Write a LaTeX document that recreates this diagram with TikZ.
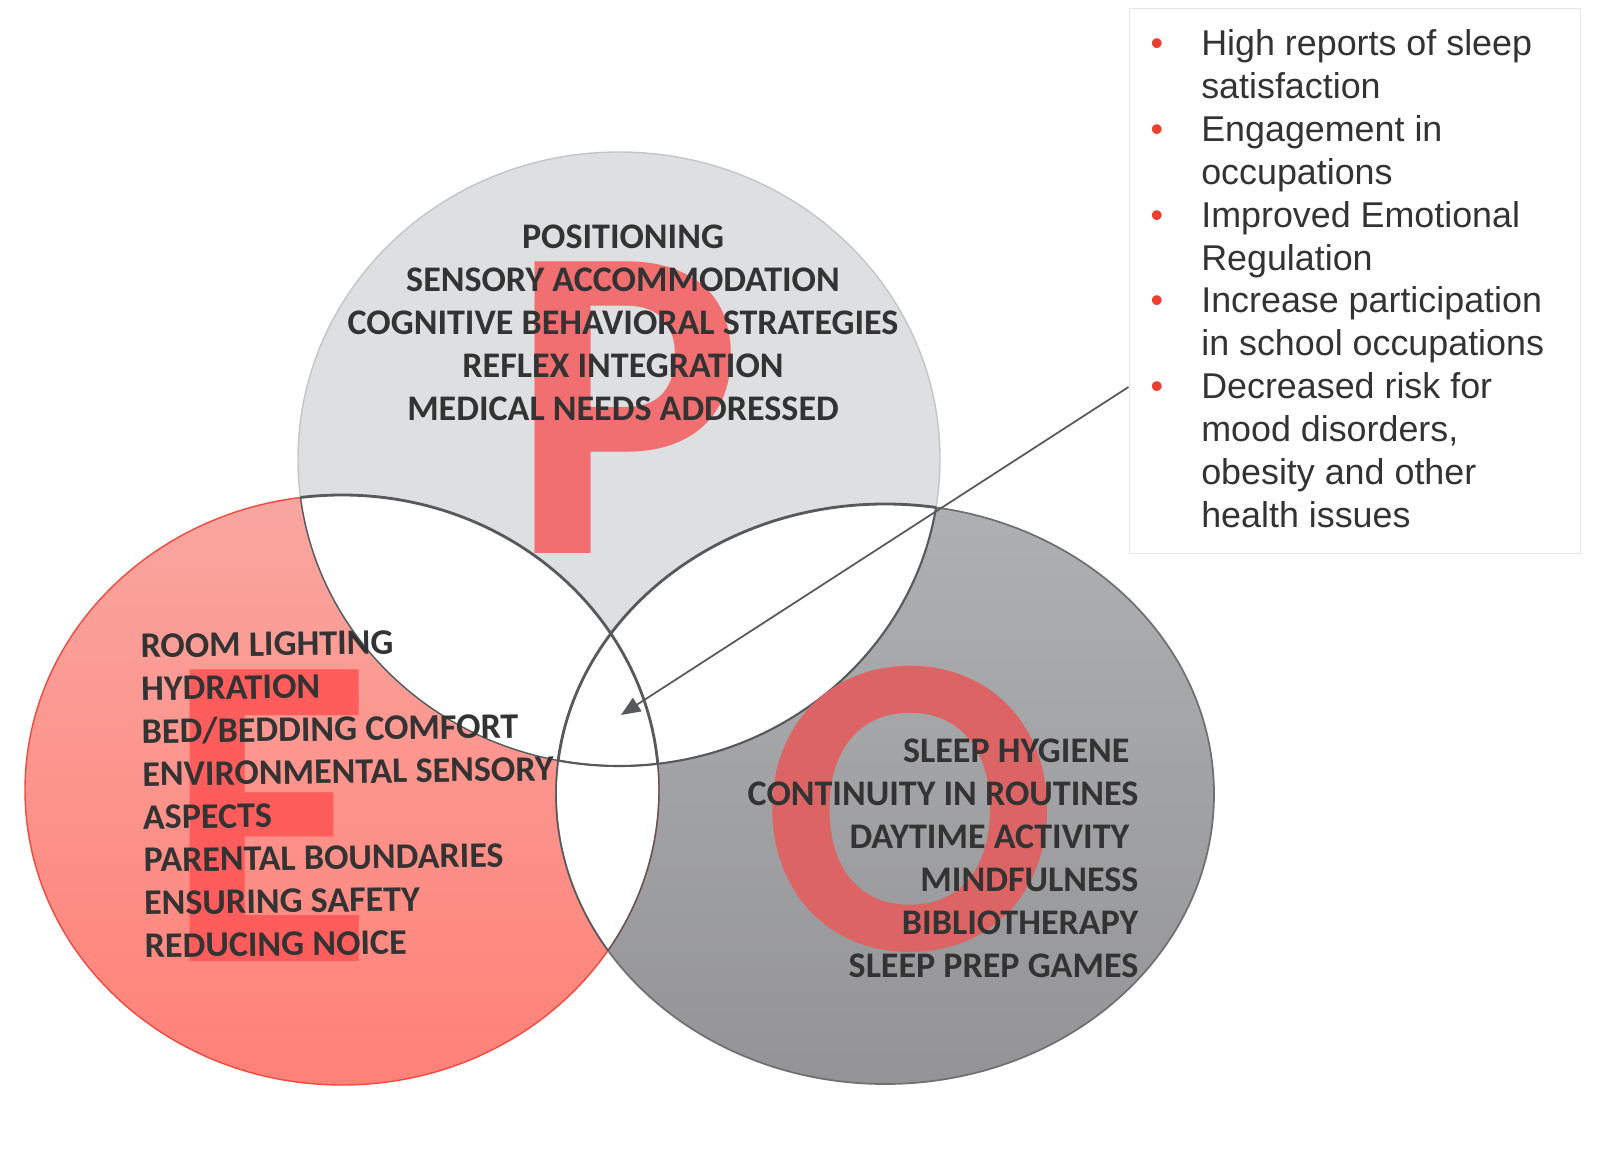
\documentclass[tikz,border=0pt]{standalone}
\usepackage{fontspec}
\setmainfont{Liberation Sans}
\newfontfamily\calfont{Carlito}
\usetikzlibrary{arrows.meta,calc,positioning}

\definecolor{pgray}{HTML}{DEDFE1}
\definecolor{pline}{HTML}{C4C5C7}
\definecolor{etop}{HTML}{F9A6A0}
\definecolor{ebottom}{HTML}{FF8177}
\definecolor{eline}{HTML}{F04A3E}
\definecolor{otop}{HTML}{AFB0B2}
\definecolor{obottom}{HTML}{949496}
\definecolor{oline}{HTML}{707070}
\definecolor{innerline}{HTML}{58595B}
\definecolor{letterP}{HTML}{F26F71}
\definecolor{letterE}{HTML}{FF5C5C}
\definecolor{letterO}{HTML}{DC6464}
\definecolor{ink}{HTML}{333333}
\definecolor{dotred}{HTML}{EA3F2F}
\definecolor{boxline}{HTML}{E6E6E6}

% the three sets
\newcommand{\ellP}{(6.19,4.59) ellipse [x radius=3.21cm, y radius=3.07cm]}
\newcommand{\ellE}{(3.42,7.90) ellipse [x radius=3.17cm, y radius=2.95cm]}
\newcommand{\ellO}{(8.85,7.94) ellipse [x radius=3.29cm, y radius=2.90cm]}

\begin{document}
\begin{tikzpicture}[x=1cm,y=-1cm,
  every node/.style={inner sep=0pt},
  settext/.style={font=\calfont\bfseries\fontsize{10.25}{12.2}\selectfont,text=ink},
  bigletter/.style={font=\calfont\bfseries\fontsize{128}{128}\selectfont,transform shape},
  outcome/.style={font=\fontsize{10.2}{12.2}\selectfont,text=ink,anchor=north west},
  arrowline/.style={draw=innerline,line width=0.5pt,-{Triangle[length=5.5pt,width=4.5pt]}},
]
\useasboundingbox (0,0) rectangle (16.16,11.58);

% the sets
\fill[pgray] \ellP;
\shade[top color=etop,bottom color=ebottom] \ellE;
\shade[top color=otop,bottom color=obottom] \ellO;

% the overlaps
\begin{scope}
\clip \ellP;
\fill[white] \ellE;
\fill[white] \ellO;
\end{scope}
\begin{scope}
\clip \ellE;
\fill[white] \ellO;
\end{scope}

% outer borders
\draw[pline,line width=0.4pt] \ellP;
\draw[eline,line width=0.4pt] \ellE;
\draw[oline,line width=0.5pt] \ellO;

% inner borders
\begin{scope}
\clip \ellP;
\draw[innerline,line width=0.8pt] \ellE;
\draw[innerline,line width=0.8pt] \ellO;
\end{scope}
\begin{scope}
\clip \ellE;
\draw[innerline,line width=0.4pt] \ellP;
\draw[innerline,line width=0.4pt] \ellO;
\end{scope}
\begin{scope}
\clip \ellO;
\draw[innerline,line width=0.6pt] \ellP;
\draw[innerline,line width=0.4pt] \ellE;
\end{scope}

% the big letters
\node[bigletter,text=letterP,xscale=0.97] (bigP) at (6.27,4.08) {P};
\node[bigletter,text=letterE,xscale=0.95] (bigE) at (2.70,8.16) {E};
\node[bigletter,text=letterO,xscale=0.97,yscale=0.96] (bigO) at (9.10,8.095) {O};

% the strategies
\node[settext,align=center] (person) at (6.23,3.23)
  {POSITIONING\\SENSORY ACCOMMODATION\\COGNITIVE BEHAVIORAL STRATEGIES\\REFLEX INTEGRATION\\MEDICAL NEEDS ADDRESSED};
\node[settext,align=left,anchor=west,rotate=0.8] (environment) at (1.42,7.96)
  {ROOM LIGHTING\\HYDRATION\\BED/BEDDING COMFORT\\ENVIRONMENTAL SENSORY\\ASPECTS\\PARENTAL BOUNDARIES\\ENSURING SAFETY\\REDUCING NOICE};
\node[settext,align=right,anchor=east] (occupation) at (11.39,8.585)
  {SLEEP HYGIENE\kern.25em\\CONTINUITY IN ROUTINES\\DAYTIME ACTIVITY\kern.25em\\MINDFULNESS\\BIBLIOTHERAPY\\SLEEP PREP GAMES};

% the outcomes
\node[draw=boxline,line width=0.4pt,minimum width=4.515cm,minimum height=5.45cm,anchor=north west] (box) at (11.285,0.08) {};
\node[outcome,below right=0.17cm and 0.215cm of box.north west] (outcomes) {%
\begin{tabular}{@{}p{0.506cm}@{}l@{}}
\textcolor{dotred}{\textbullet} & High reports of sleep\\
 & satisfaction\\
\textcolor{dotred}{\textbullet} & Engagement in\\
 & occupations\\
\textcolor{dotred}{\textbullet} & Improved Emotional\\
 & Regulation\\
\textcolor{dotred}{\textbullet} & Increase participation\\
 & in school occupations\\
\textcolor{dotred}{\textbullet} & Decreased risk for\\
 & mood disorders,\\
 & obesity and other\\
 & health issues
\end{tabular}};

% the arrow
\coordinate (core) at (6.21,7.15);
\coordinate (tail) at (box.west |- 0,3.87);
\draw[arrowline] (tail) -- (core);
\end{tikzpicture}
\end{document}
